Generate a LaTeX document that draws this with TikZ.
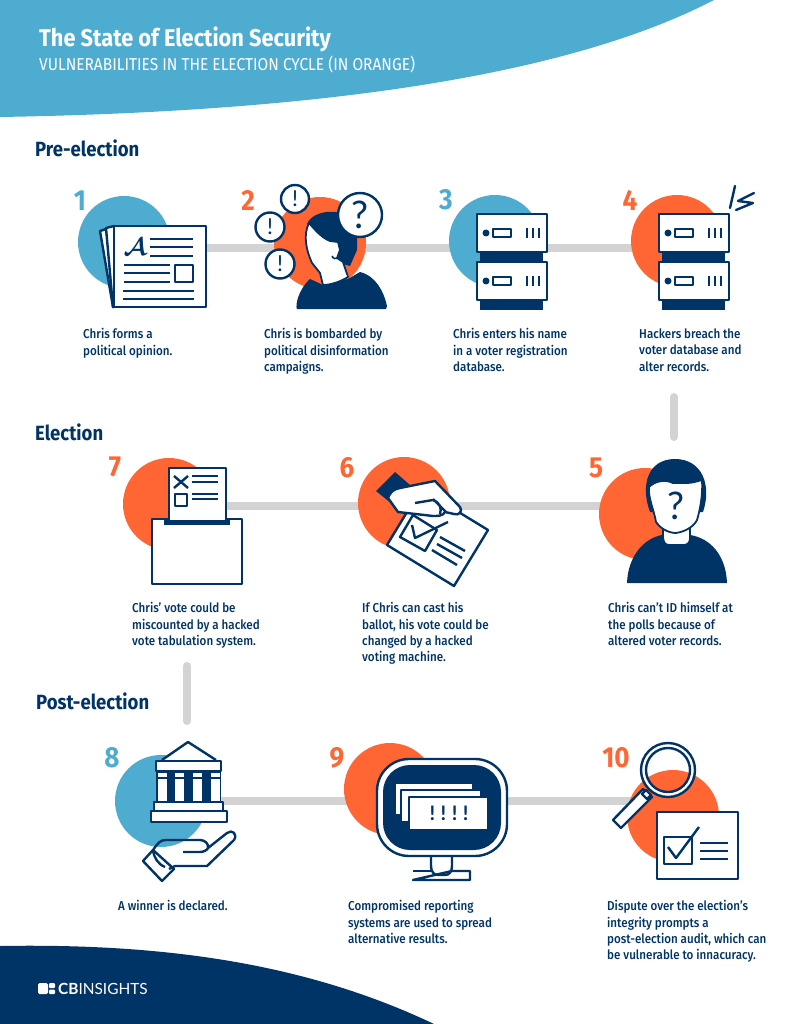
\documentclass[tikz,border=0pt]{standalone}
\usepackage{fontspec}
\usepackage{bm}
\setmainfont[FakeStretch=0.9]{Fira Sans}
\newfontfamily\captfont[FakeStretch=0.9]{Fira Sans Medium}
\newfontfamily\logofont{Lato}
\usetikzlibrary{backgrounds}
\definecolor{cbnavy}{HTML}{003366}
\definecolor{cbblue}{HTML}{4FACD1}
\definecolor{cborange}{HTML}{FF6633}
\definecolor{cbgray}{HTML}{D4D3D3}
\tikzset{
  ln/.style={draw=cbnavy,line width=2.4,line join=round},
  sheet/.style={ln,fill=white},
  bar/.style={draw=cbgray,line width=8},
  blob/.style={circle,minimum size=92,inner sep=0},
  numb/.style={font=\fontsize{29}{29}\selectfont\bfseries,inner sep=0},
  head/.style={font=\fontsize{20.6}{20.6}\selectfont\bfseries,text=cbnavy,inner sep=0,anchor=west},
  capt/.style={font=\captfont\fontsize{12.9}{16.3}\selectfont,text=cbnavy,inner sep=0,anchor=north west,align=left},
  bubble/.style={circle,ln,fill=white,inner sep=0,text=cbnavy,font=\logofont}
}
\newcommand{\blob}[3]{\node[blob,fill=#3] (#1) at (#2) {}; }
\newcommand{\num}[4]{\node[numb,text=#4] (#1) at (#2) {#3}; }
\newcommand{\capt}[3]{\node[capt] (#1) at (#2) {#3}; }
% one server of two units, top left corner at the given point
\newcommand{\rack}[2]{
  \begin{scope}[shift={(#1,#2)}]
    \foreach \u in {0,48}{
      \fill[cbnavy] (3,38+\u) rectangle (66,48+\u);
      \draw[sheet] (0,\u) rectangle (70,38+\u);
      \fill[cbnavy] (9,19+\u) circle (3.5);
      \draw[ln] (16,15+\u) rectangle (34,23+\u);
      \foreach \x in {50,56,62} \draw[ln] (\x,14+\u) -- (\x,24+\u);
    }
  \end{scope}
}
\begin{document}
\begin{tikzpicture}[x=1pt,y=-1pt]
  \useasboundingbox (0,0) rectangle (798,1024);
  % banners
  \fill[cbblue] (0,0) -- (714,0) .. controls (560,80) and (300,112) .. (0,117) -- cycle;
  \fill[cbnavy] (0,946) .. controls (170,943) and (310,965) .. (434,1024) -- (0,1024) -- cycle;
  \node[font=\fontsize{24.2}{24}\selectfont\bfseries,text=white,inner sep=0,anchor=west] (title) at (39,39.5) {The State of Election Security};
  \node[font=\fontsize{17.2}{17}\selectfont,text=white,inner sep=0,anchor=west] (subtitle) at (39,64) {VULNERABILITIES IN THE ELECTION CYCLE (IN ORANGE)};
  \node[head] (pre) at (35,148.5) {Pre-election};
  \node[head] (ele) at (35,432.5) {Election};
  \node[head] (post) at (36,701.5) {Post-election};
  \coordinate (row1) at (0,248);
  \coordinate (row2) at (0,506);
  \coordinate (row3) at (0,801);
  \coordinate (v4) at (674,397);
  \coordinate (v5) at (674,437);
  \coordinate (v7) at (187,666);
  \coordinate (v8) at (187,721);

  % step 1
  \blob{c1}{124,242}{cbblue}
  \num{n1}{80,201}{1}{cbblue}
  \draw[sheet] (100,231) -- (106,229) -- (120,305) -- (113,307) -- cycle;
  \draw[sheet] (106,228) -- (114,226) -- (125,305) -- (113,307) -- cycle;
  \draw[sheet] (114,226) rectangle (206,307);
  \node[text=cbnavy,font=\fontsize{25}{25}\selectfont,inner sep=0] (letter) at (135,247) {$\bm{\mathcal{A}}$};
  \foreach \y in {239,247,256} \draw[ln] (150,\y) -- (193,\y);
  \foreach \y in {265,273,282} \draw[ln] (124,\y) -- (170,\y);
  \foreach \y in {291,299} \draw[ln] (123,\y) -- (194,\y);
  \draw[ln] (175,265) rectangle (193,282);

  % step 2
  \blob{c2}{320,243}{cborange}
  \num{n2}{248,200}{2}{cborange}
  \fill[cbnavy] (297,309) .. controls (295,306) and (298,290) .. (310,279) -- (323,285) -- (348,279) -- (360,272) .. controls (376,276) and (384,292) .. (387,306) -- (386,309) -- cycle;
  \fill[cbnavy] (307,224) .. controls (312,210) and (345,205) .. (357,225) -- (357,250) -- (350,266) -- (336,262) -- cycle;
  \draw[sheet,line width=1.8] (309,223) .. controls (315,230) and (322,238) .. (330,241) -- (338,242) -- (340,250) -- (337,258) -- (343,262) -- (348,277) .. controls (340,282) and (330,285) .. (323,285) -- (320,273) -- (312,263) .. controls (306,250) and (303,235) .. (309,223) -- cycle;
  \fill[white] (336,244) -- (336,262) -- (347,276) -- (325,283) -- cycle;
  \draw[ln,line width=1.6] (332,256) .. controls (333,259) and (336,259) .. (338,258);
  \node[bubble,minimum size=44,font=\logofont\fontsize{38}{38}\selectfont] (ask) at (360,215) {?};
  \node[bubble,minimum size=28,font=\logofont\fontsize{22}{22}\selectfont] (warn1) at (295,199) {!};
  \node[bubble,minimum size=29,font=\logofont\fontsize{22}{22}\selectfont] (warn2) at (270,227) {!};
  \node[bubble,minimum size=29,font=\logofont\fontsize{22}{22}\selectfont] (warn3) at (280,264) {!};

  % step 3
  \blob{c3}{495,241}{cbblue}
  \num{n3}{446,200}{3}{cbblue}
  \rack{477}{214}

  % step 4
  \blob{c4}{677,241}{cborange}
  \num{n4}{630,200}{4}{cborange}
  \rack{659}{214}
  \draw[ln,line cap=round] (735,186) -- (730,208);
  \draw[ln,line cap=round] (754,193) -- (738,201) -- (753,203) -- (736,210);

  % step 5
  \blob{c5}{645,514}{cborange}
  \num{n5}{596,468}{5}{cborange}
  \fill[cbnavy] (627,583) .. controls (628,555) and (645,538) .. (662,535) -- (690,535) .. controls (710,538) and (726,555) .. (727,583) -- cycle;
  \draw[sheet,line width=1.8] (663,525) -- (663,538) .. controls (664,544) and (666,545) .. (670,545) -- (684,545) .. controls (688,545) and (690,542) .. (690,538) -- (690,525);
  \fill[cbnavy] (650,512) .. controls (640,485) and (648,459) .. (675,459) .. controls (702,459) and (712,485) .. (703,512) -- cycle;
  \draw[sheet,line width=1.8] (649,487) .. controls (655,481) and (665,479) .. (673,483) -- (687,483) .. controls (692,483) and (698,481) .. (702,480) .. controls (703,495) and (700,510) .. (697,520) .. controls (693,528) and (683,532) .. (676,533) .. controls (668,533) and (660,528) .. (656,522) .. controls (654,510) and (648,498) .. (649,487) -- cycle;
  \node[text=cbnavy,font=\logofont\fontsize{38}{38}\selectfont,inner sep=0] (who) at (676,506) {?};

  % step 6
  \blob{c6}{404,503}{cborange}
  \num{n6}{347,468}{6}{cborange}
  \draw[sheet] (421,489) -- (488,530) -- (454,586) -- (387,545) -- cycle;
  \draw[ln] (400,537) -- (413,515) -- (437,530) -- (425,551) -- cycle;
  \draw[ln] (412,525) -- (415,538) -- (448,522);
  \draw[ln] (440,537) -- (465,551);
  \draw[ln] (437,544) -- (462,558);
  \draw[ln] (432,550) -- (457,565);
  \fill[cbnavy] (395,472) -- (376,491) -- (392,504) -- (410,485) -- cycle;
  \draw[sheet] (388,498) .. controls (390,492) and (394,489) .. (400,488) -- (435,481) -- (460,507) .. controls (463,511) and (459,516) .. (454,514) -- (445,512) .. controls (443,516) and (438,516) .. (433,516) -- (398,512) -- cycle;
  \draw[ln] (415,503) -- (433,500) .. controls (440,503) and (442,508) .. (440,514);
  \draw[ln] (433,499) -- (446,512);

  % step 7
  \blob{c7}{169,504}{cborange}
  \num{n7}{115,467}{7}{cborange}
  \draw[sheet] (152,519) rectangle (242,584);
  \fill[cbnavy] (164,518) rectangle (230,525);
  \draw[sheet] (169,468) rectangle (226,521);
  \draw[ln] (174,476) -- (188,488);
  \draw[ln] (188,476) -- (174,488);
  \foreach \y in {476,482,494,499} \draw[ln] (192,\y) -- (218,\y);
  \draw[ln] (175,494) rectangle (187,506);

  % step 8
  \blob{c8}{161,801}{cbblue}
  \num{n8}{112,758}{8}{cbblue}
  \draw[sheet] (162,760) -- (188,742) -- (216,760);
  \fill[cbnavy] (156,771) rectangle (221,803);
  \draw[sheet] (156,761) rectangle (221,771);
  \foreach \x in {158,175,193,211}{
    \fill[white] (\x,773) rectangle +(8.5,4);
    \fill[white] (\x,778.5) rectangle +(8.5,23);
  }
  \draw[sheet] (154,802) rectangle (223,811);
  \draw[sheet] (151,811) rectangle (227,822);
  \draw[sheet] (143,861) -- (153,850) -- (174,869) -- (162,881) -- cycle;
  \draw[ln] (153,850) .. controls (158,843) and (160,840) .. (166,840) -- (200,840) .. controls (205,840) and (209,844) .. (208,848) -- (227,833) .. controls (232,829) and (238,834) .. (234,840) -- (207,866) -- (175,866) -- (169,869);
  \draw[ln] (153,850) .. controls (154,858) and (158,864) .. (165,867);
  \draw[ln] (183,852) -- (200,852) .. controls (204,852) and (207,850) .. (208,848);

  % step 9
  \blob{c9}{390,789}{cborange}
  \num{n9}{337,758}{9}{cborange}
  \draw[sheet] (431,855) -- (431,866) .. controls (431,872) and (434,875) .. (438,875) -- (445,875) .. controls (449,875) and (452,872) .. (452,866) -- (452,855);
  \draw[ln] (413,871) -- (431,871);
  \draw[ln] (452,871) -- (470,871) -- (470,880) -- (413,880) -- cycle;
  \draw[sheet,rounded corners=32] (377,759) rectangle (507,856);
  \fill[cbnavy,rounded corners=27] (383,765) rectangle (501,850);
  \draw[sheet,line width=2] (395,783) rectangle (473,815);
  \draw[sheet,line width=2] (401,790) rectangle (481,822);
  \draw[sheet,line width=2] (409,797) rectangle (488,830);
  \node[text=cbnavy,font=\logofont\fontsize{20}{20}\selectfont\bfseries,inner sep=0] (alarm) at (449,813) {!\hspace{5.5pt}!\hspace{5.5pt}!\hspace{5.5pt}!};

  % step 10
  \blob{c10}{673,816}{cborange}
  \num{n10}{616,758}{10}{cborange}
  \draw[sheet] (613,820) -- (643,789) -- (652,797) -- (621,828) -- cycle;
  \draw[sheet] (642,794) -- (646,790) -- (651,795) -- (647,799) -- cycle;
  \draw[white,line width=5] (668,770) circle (24.5);
  \draw[ln] (668,770) circle (27);
  \draw[ln] (668,770) circle (22);
  \draw[sheet] (657,812) rectangle (738,879);
  \draw[ln] (664,837) rectangle (692,864);
  \draw[ln] (668,847) -- (676,858) -- (699,827);
  \foreach \y in {843,851,859} \draw[ln] (700,\y) -- (728,\y);

  % grey links behind it all
  \begin{pgfonlayer}{background}
    \draw[bar] (c1 |- row1) -- (c2 |- row1) -- (c3 |- row1) -- (c4 |- row1);
    \draw[bar] (c7 |- row2) -- (c6 |- row2) -- (c5 |- row2);
    \draw[bar] (c8 |- row3) -- (c9 |- row3) -- (c10 |- row3);
    \draw[bar,line cap=round] (v4) -- (v5);
    \draw[bar,line cap=round] (v7) -- (v8);
  \end{pgfonlayer}

  % captions
  \capt{t1}{83,328.5}{Chris forms a\\political opinion.}
  \capt{t2}{264,328.5}{Chris is bombarded by\\political disinformation\\campaigns.}
  \capt{t3}{453,328.5}{Chris enters his name\\in a voter registration\\database.}
  \capt{t4}{639,328.5}{Hackers breach the\\voter database and\\alter records.}
  \capt{t5}{608,602.5}{Chris can’t ID himself at\\the polls because of\\altered voter records.}
  \capt{t6}{362,602.5}{If Chris can cast his\\ballot, his vote could be\\changed by a hacked\\voting machine.}
  \capt{t7}{132,602.5}{Chris’ vote could be\\miscounted by a hacked\\vote tabulation system.}
  \capt{t8}{118,900.5}{A winner is declared.}
  \capt{t9}{348,900.5}{Compromised reporting\\systems are used to spread\\alternative results.}
  \capt{t10}{607,900.5}{Dispute over the election’s\\integrity prompts a\\post-election audit, which can\\be vulnerable to innacuracy.}

  % logo
  \fill[white,rounded corners=1.5] (38,983) rectangle (48,994);
  \fill[white,rounded corners=1] (49,983) rectangle (55,988);
  \fill[white,rounded corners=1] (49,989.5) rectangle (55,994);
  \node[text=white,inner sep=0,anchor=west,font=\logofont\fontsize{15.4}{16}\selectfont] (logo) at (58,989) {\textbf{CB}INSIGHTS};
\end{tikzpicture}
\end{document}
